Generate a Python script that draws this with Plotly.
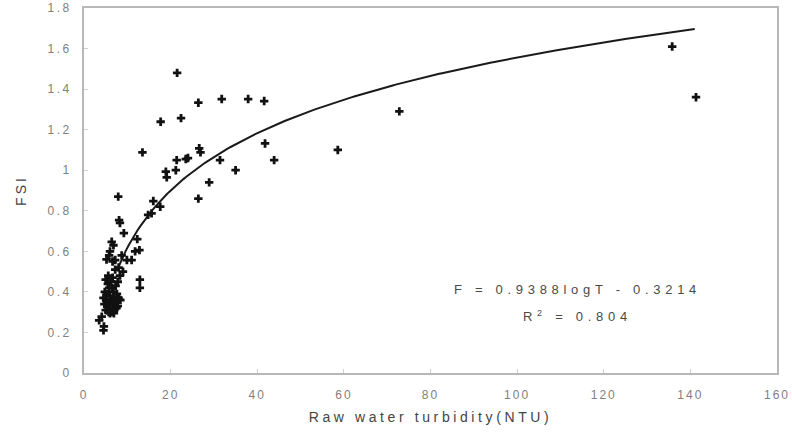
import numpy as np
import plotly.graph_objects as go

# Scatter data: raw water turbidity (NTU) vs FSI
turbidity = [135.8, 141.3, 72.8, 58.6,
             21.5, 26.4, 31.8, 37.9, 41.6,
             17.7, 22.4,
             13.5, 26.6, 26.9, 41.8, 43.9,
             21.4, 23.5, 24.0, 31.4, 35.0, 21.2,
             18.9, 19.1, 28.9, 26.4,
             16.0, 17.6, 15.6, 14.8,
             7.9, 8.1, 8.3, 9.2,
             12.3, 12.8, 11.8, 11.0, 9.9, 8.7,
             6.4, 6.8, 6.0, 5.2, 7.2, 5.8, 6.6,
             12.9, 12.9,
             8.3, 7.2, 9.0, 8.0,
             5.0, 5.5, 6.2, 5.8, 6.5, 4.8, 5.3, 6.0, 6.8, 7.3,
             4.5, 5.1, 5.7, 6.3, 7.0, 7.6, 4.7, 5.4, 6.1, 6.7,
             7.4, 8.0, 5.0, 5.7, 6.4, 7.0, 7.8, 6.0, 6.9, 7.5,
             8.4, 6.6, 7.8, 5.6,
             4.1, 3.5, 4.5, 4.6]
fsi = [1.61, 1.36, 1.29, 1.10,
       1.48, 1.333, 1.351, 1.351, 1.341,
       1.239, 1.257,
       1.088, 1.108, 1.088, 1.132, 1.05,
       1.05, 1.055, 1.06, 1.05, 1.0, 1.0,
       0.993, 0.965, 0.94, 0.86,
       0.848, 0.82, 0.787, 0.78,
       0.87, 0.754, 0.74, 0.69,
       0.66, 0.606, 0.60, 0.557, 0.557, 0.58,
       0.647, 0.63, 0.60, 0.56, 0.557, 0.58, 0.55,
       0.46, 0.42,
       0.48, 0.51, 0.50, 0.52,
       0.46, 0.44, 0.45, 0.42, 0.42, 0.40, 0.39, 0.38, 0.40, 0.43,
       0.37, 0.36, 0.35, 0.36, 0.37, 0.39, 0.34, 0.33, 0.32, 0.34,
       0.35, 0.37, 0.31, 0.30, 0.30, 0.31, 0.33, 0.295, 0.295, 0.32,
       0.36, 0.47, 0.45, 0.48,
       0.278, 0.26, 0.21, 0.23]

# Fitted regression shown on the chart: F = a*log10(T) + b
fit_a = 0.9388
fit_b = -0.3214
fit_t_min, fit_t_max = 7.6, 141.0

x_ticks = [0, 20, 40, 60, 80, 100, 120, 140, 160]
x_tick_text = ["0", "20", "40", "60", "80", "100", "120", "140", "160"]
y_ticks = [0, 0.2, 0.4, 0.6, 0.8, 1.0, 1.2, 1.4, 1.6, 1.8]
y_tick_text = ["0", "0.2", "0.4", "0.6", "0.8", "1", "1.2", "1.4", "1.6", "1.8"]


def spaced(txt, px):
    return f"<span style='letter-spacing:{px}px'>{txt}</span>"


t_fit = np.linspace(fit_t_min, fit_t_max, 200)
f_fit = fit_a * np.log10(t_fit) + fit_b

fig = go.Figure()
fig.add_trace(go.Scatter(x=t_fit, y=f_fit, mode="lines",
                         line=dict(color="#1a1a1a", width=2), hoverinfo="skip"))
fig.add_trace(go.Scatter(x=turbidity, y=fsi, mode="markers",
                         marker=dict(symbol="cross", size=7, color="#111111",
                                     line=dict(width=0))))

font_family = "Liberation Sans, Arial, sans-serif"
fig.update_layout(
    width=792, height=434,
    margin=dict(l=84, r=15, t=8, b=61),
    paper_bgcolor="white", plot_bgcolor="white",
    showlegend=False, hovermode=False,
    font=dict(family=font_family, color="#808080", size=12),
    annotations=[
        dict(x=0.712, y=0.230, xref="paper", yref="paper", xanchor="center",
             yanchor="middle",
             text=spaced("F = 0.9388logT - 0.3214", 4.7), showarrow=False,
             font=dict(size=13, color="#4a4a4a", family=font_family)),
        dict(x=0.712, y=0.156, xref="paper", yref="paper", xanchor="center",
             yanchor="middle",
             text=spaced("R<sup>2</sup> = 0.804", 4.7), showarrow=False,
             font=dict(size=13, color="#4a4a4a", family=font_family)),
    ],
)
fig.update_xaxes(
    range=[0, 160], tickvals=x_ticks,
    ticktext=[spaced(t, 2) for t in x_tick_text],
    showgrid=False, zeroline=False, automargin=False,
    showline=True, mirror=True, linecolor="#b8b8b8", linewidth=1.8,
    ticks="inside", ticklen=4, tickcolor="#d0d0d0", ticklabelstandoff=10,
    title=dict(text=spaced("Raw water turbidity(NTU)", 3.6), standoff=11,
               font=dict(size=14, color="#444444")),
)
fig.update_yaxes(
    range=[0, 1.8], tickvals=y_ticks,
    ticktext=[spaced(t, 2.5) for t in y_tick_text],
    showgrid=False, zeroline=False, automargin=False,
    showline=True, mirror=True, linecolor="#b8b8b8", linewidth=1.8,
    ticks="inside", ticklen=4, tickcolor="#d0d0d0", ticklabelstandoff=8,
    title=dict(text=spaced("FSI", 3), standoff=18,
               font=dict(size=14, color="#444444")),
)

fig.write_html("out.html",
               config={"displayModeBar": False},
               post_script="document.body.style.margin='0';")
